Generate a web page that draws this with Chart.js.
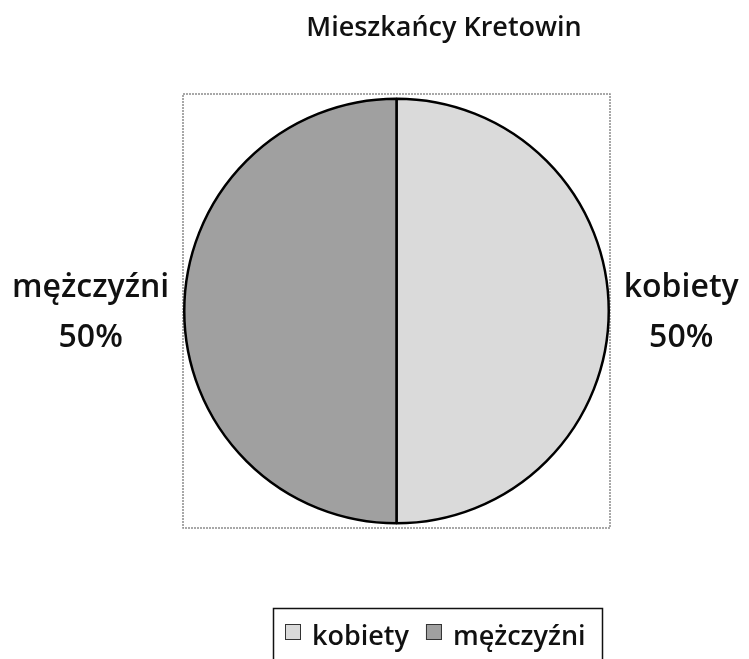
<!DOCTYPE html>
<html>
<head>
<meta charset="utf-8">
<script src="https://cdn.jsdelivr.net/npm/chart.js@4"></script>
<style>
  html, body { margin: 0; padding: 0; background: #ffffff; }
  #wrap { width: 749px; height: 659px; position: relative; }
</style>
</head>
<body>
<div id="wrap"><canvas id="c" width="749" height="659"></canvas></div>
<script>
const chartTitle = 'Mieszkańcy Kretowin';
const categories = ['kobiety', 'mężczyźni'];
const values = [50, 50];
const percentLabels = ['50%', '50%'];
const sliceColors = ['#dadada', '#a0a0a0'];

const FONT = '"Open Sans", "DejaVu Sans", sans-serif';

const decorPlugin = {
  id: 'decor',
  beforeDatasetsDraw(chart) {
    const ctx = chart.ctx;
    ctx.save();
    ctx.strokeStyle = '#8c8c8c';
    ctx.lineWidth = 1.5;
    ctx.setLineDash([2, 1]);
    ctx.strokeRect(183, 94, 427, 434);
    ctx.restore();
  },
  afterDatasetsDraw(chart) {
    const ctx = chart.ctx;
    const meta = chart.getDatasetMeta(0);
    ctx.save();
    // title
    ctx.fillStyle = '#111111';
    ctx.font = '600 27px ' + FONT;
    ctx.textAlign = 'center';
    ctx.textBaseline = 'alphabetic';
    ctx.fillText(chartTitle, 444, 36);

    // outside labels
    ctx.font = '600 32px ' + FONT;
    meta.data.forEach((arc, i) => {
      const p = arc.getProps(['x', 'y', 'startAngle', 'endAngle', 'outerRadius'], true);
      const mid = (p.startAngle + p.endAngle) / 2;
      const right = Math.cos(mid) >= 0;
      const lines = [categories[i], percentLabels[i]];
      const w = Math.max(...lines.map(t => ctx.measureText(t).width));
      const gap = 15;
      const cx = right ? p.x + p.outerRadius + gap + w / 2 : p.x - p.outerRadius - gap - w / 2;
      const cy = p.y;
      ctx.textAlign = 'center';
      ctx.fillText(lines[0], cx, cy - 14);
      ctx.fillText(lines[1], cx, cy + 36);
    });

    // legend
    const lx = 273, ly = 608;
    ctx.setLineDash([]);
    ctx.strokeStyle = '#111111';
    ctx.lineWidth = 1.5;
    ctx.strokeRect(lx + 0.5, ly + 0.5, 602 - lx, 80);
    ctx.font = '600 27px ' + FONT;
    ctx.textAlign = 'left';
    let x = lx + 12;
    categories.forEach((c, i) => {
      ctx.fillStyle = sliceColors[i];
      ctx.fillRect(x, 624, 16, 16);
      ctx.strokeStyle = '#333333';
      ctx.lineWidth = 1;
      ctx.strokeRect(x + 0.5, 624.5, 15, 15);
      ctx.fillStyle = '#111111';
      ctx.fillText(c, x + 27, 645);
      x += 27 + ctx.measureText(c).width + 17;
    });
    ctx.restore();
  }
};

new Chart(document.getElementById('c'), {
  type: 'pie',
  data: {
    labels: categories,
    datasets: [{
      data: values,
      backgroundColor: sliceColors,
      borderColor: '#000000',
      borderWidth: 2.5
    }]
  },
  options: {
    responsive: false,
    animation: false,
    events: [],
    layout: { padding: { left: 183, right: 139, top: 93, bottom: 130 } },
    plugins: {
      legend: { display: false },
      title: { display: false },
      tooltip: { enabled: false }
    }
  },
  plugins: [decorPlugin]
});
</script>
</body>
</html>
